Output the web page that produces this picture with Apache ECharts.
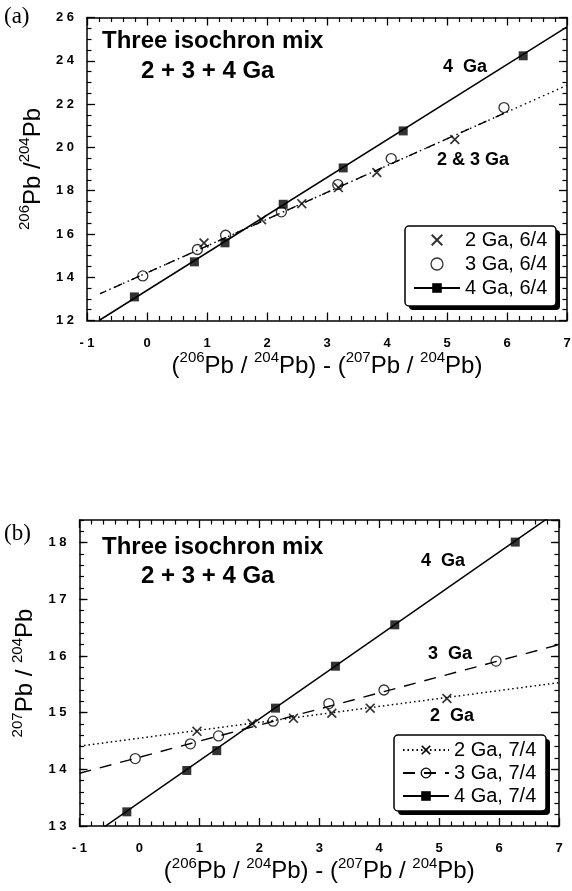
<!DOCTYPE html>
<html><head><meta charset="utf-8">
<script src="https://cdn.jsdelivr.net/npm/echarts@6/dist/echarts.min.js"></script>
<style>html,body{margin:0;padding:0;background:#fff}#c{width:572px;height:891px}</style>
</head><body><div id="c"></div><script>
// ---------- Panel (a): 206Pb/204Pb ----------
const xMin = -1, xMax = 7;
const aYMin = 12, aYMax = 26;
const a2GaX = [0.95, 1.91, 2.58, 3.19, 3.83, 5.13];
const a2GaY = [15.58, 16.66, 17.40, 18.14, 18.84, 20.36];
const a3GaX = [-0.07, 0.84, 1.31, 2.24, 3.18, 4.07, 5.95];
const a3GaY = [14.06, 15.28, 15.94, 17.02, 18.28, 19.48, 21.84];
const a4GaX = [-0.21, 0.79, 1.30, 2.27, 3.27, 4.27, 6.27];
const a4GaY = [13.09, 14.71, 15.59, 17.37, 19.05, 20.76, 24.23];
const aFit4 = [[-0.8, 12.0], [7.0, 25.57]];
const aFit2 = [[-0.78, 13.24], [7.0, 22.87]];
const aFit3 = [[-0.78, 13.24], [5.95, 21.57]];
// ---------- Panel (b): 207Pb/204Pb ----------
const bYMin = 13, bYMax = 18.4;
const b2GaX = [0.96, 1.88, 2.57, 3.21, 3.85, 5.13];
const b2GaY = [14.67, 14.81, 14.90, 14.99, 15.08, 15.25];
const b3GaX = [-0.07, 0.85, 1.32, 2.23, 3.16, 4.08, 5.95];
const b3GaY = [14.19, 14.45, 14.59, 14.85, 15.16, 15.40, 15.91];
const b4GaX = [-0.21, 0.79, 1.29, 2.27, 3.27, 4.26, 6.27];
const b4GaY = [13.25, 13.98, 14.33, 15.08, 15.82, 16.55, 18.01];
const bFit4 = [[-1, 12.68], [7, 18.57]];
const bFit3 = [[-1, 13.93], [7, 16.20]];
const bFit2 = [[-1, 14.41], [7, 15.53]];

const pts = (xs, ys) => xs.map((x, i) => [x, ys[i]]);
const spaced = v => String(v).split('').join(' ');
const FONT = 'Liberation Sans';
const X_PATH = 'path://M0,1.2L1.2,0L5,3.8L8.8,0L10,1.2L6.2,5L10,8.8L8.8,10L5,6.2L1.2,10L0,8.8L3.8,5Z';

const tickLbl = {fontFamily: FONT, fontWeight: 'bold', fontSize: 13, color: '#000'};
const axLine = {show: true, onZero: false, lineStyle: {color: '#000', width: 1.5}};
const noLine = {show: false, onZero: false};
const majTick = {show: true, inside: true, length: 8, lineStyle: {color: '#000', width: 1.3}};
const minTick = {show: true, inside: true, length: 4.5, lineStyle: {color: '#000', width: 1.2}};
const minorA = n => ({show: true, splitNumber: n, length: 4.5, lineStyle: {color: '#000', width: 1.2}});
const rich = {
  s: {fontFamily: FONT, fontSize: 15, verticalAlign: 'top', lineHeight: 15, color: '#000'},
  m: {fontFamily: FONT, fontSize: 24, lineHeight: 31, color: '#000'}
};

function xAxes(grid) {
  const base = {type: 'value', gridIndex: grid, min: xMin, max: xMax, interval: 1,
    axisLine: axLine, splitLine: {show: false}, axisTick: majTick, minorTick: minorA(5)};
  return [
    Object.assign({}, base, {position: 'bottom',
      axisLabel: Object.assign({show: true, margin: 16, formatter: spaced}, tickLbl),
      name: '{m|(}{s|206}{m|Pb / }{s|204}{m|Pb) - (}{s|207}{m|Pb / }{s|204}{m|Pb)}',
      nameLocation: 'middle', nameGap: 27,
      nameTextStyle: {rich: rich}}),
    Object.assign({}, base, {position: 'top', axisLabel: {show: false}})
  ];
}
function frame(x, y, w, h) {
  return [
    {type: 'rect', shape: {x: x + 4, y: y + 4, width: w, height: h, r: 4}, style: {fill: '#000'}, z: 10},
    {type: 'rect', shape: {x: x, y: y, width: w, height: h, r: 4}, style: {fill: '#fff', stroke: '#000', lineWidth: 1.5}, z: 11}
  ];
}

const option = {
  animation: false,
  backgroundColor: '#fff',
  grid: [
    {left: 87, top: 17.5, width: 480, height: 303, outerBoundsMode: 'none', containLabel: false},
    {left: 79.5, top: 520, width: 479.5, height: 306, outerBoundsMode: 'none', containLabel: false}
  ],
  xAxis: [].concat(xAxes(0), xAxes(1)),
  yAxis: [
    // panel a
    {type: 'value', gridIndex: 0, position: 'left', min: aYMin, max: aYMax, interval: 2,
      axisLine: axLine, splitLine: {show: false}, axisTick: majTick, minorTick: minorA(4),
      axisLabel: Object.assign({show: true, margin: 13, formatter: spaced}, tickLbl),
      name: '{s|206}{m|Pb /}{s|204}{m|Pb}', nameLocation: 'middle', nameGap: 37, nameRotate: 90,
      nameTextStyle: {rich: rich}},
    {type: 'value', gridIndex: 0, position: 'right', min: aYMin, max: aYMax, interval: 2,
      axisLine: axLine, splitLine: {show: false}, axisLabel: {show: false},
      axisTick: majTick, minorTick: minorA(4)},
    // panel b
    {type: 'value', gridIndex: 1, position: 'left', min: bYMin, max: bYMax, interval: 1,
      axisLine: axLine, splitLine: {show: false}, axisTick: majTick,
      axisLabel: Object.assign({show: true, margin: 13, formatter: spaced, showMaxLabel: false}, tickLbl),
      name: '{s|207}{m|Pb / }{s|204}{m|Pb}', nameLocation: 'middle', nameGap: 30, nameRotate: 90,
      nameTextStyle: {rich: rich}},
    {type: 'value', gridIndex: 1, position: 'left', min: bYMin, max: bYMax, interval: 0.2,
      axisLine: noLine, splitLine: {show: false}, axisLabel: {show: false}, axisTick: minTick},
    {type: 'value', gridIndex: 1, position: 'right', min: bYMin, max: bYMax, interval: 1,
      axisLine: axLine, splitLine: {show: false}, axisLabel: {show: false}, axisTick: majTick},
    {type: 'value', gridIndex: 1, position: 'right', min: bYMin, max: bYMax, interval: 0.2,
      axisLine: noLine, splitLine: {show: false}, axisLabel: {show: false}, axisTick: minTick}
  ],
  legend: [
    {left: 413, top: 230, orient: 'vertical', itemGap: 4, itemWidth: 46, itemHeight: 12, padding: 0, z: 12,
      textStyle: {fontFamily: FONT, fontSize: 20, lineHeight: 20, color: '#000'},
      data: [{name: '2 Ga, 6/4'}, {name: '3 Ga, 6/4', itemStyle: {borderWidth: 1.3, borderColor: '#000'}}, {name: '4 Ga, 6/4'}]},
    {left: 402, top: 740, orient: 'vertical', itemGap: 3, itemWidth: 46, itemHeight: 12, padding: 0, z: 12,
      textStyle: {fontFamily: FONT, fontSize: 20, lineHeight: 20, color: '#000'},
      data: [{name: '2 Ga, 7/4'}, {name: '3 Ga, 7/4', itemStyle: {borderWidth: 1.3, borderColor: '#000'}}, {name: '4 Ga, 7/4'}]}
  ],
  series: [
    // ----- panel a -----
    {name: '4 Ga, 6/4', type: 'line', xAxisIndex: 0, yAxisIndex: 0, data: aFit4, showSymbol: false,
      symbol: 'rect', symbolSize: 9, itemStyle: {color: '#000'}, lineStyle: {color: '#000', width: 1.5}, z: 2},
    {name: 'fit 2 Ga a', type: 'line', xAxisIndex: 0, yAxisIndex: 0, data: aFit2, showSymbol: false, symbol: 'none',
      lineStyle: {color: '#000', width: 1.4, type: [1.5, 3.5]}, z: 2},
    {name: 'fit 3 Ga a', type: 'line', xAxisIndex: 0, yAxisIndex: 0, data: aFit3, showSymbol: false, symbol: 'none',
      lineStyle: {color: '#000', width: 1.4, type: [9, 10], dashOffset: 4}, z: 2},
    {name: '4 Ga, 6/4', type: 'scatter', xAxisIndex: 0, yAxisIndex: 0, data: pts(a4GaX, a4GaY),
      symbol: 'rect', symbolSize: 9, itemStyle: {color: '#000'}, z: 3},
    {name: '2 Ga, 6/4', type: 'scatter', xAxisIndex: 0, yAxisIndex: 0, data: pts(a2GaX, a2GaY),
      symbol: X_PATH, symbolSize: 10, itemStyle: {color: '#000'}, z: 3},
    {name: '3 Ga, 6/4', type: 'scatter', xAxisIndex: 0, yAxisIndex: 0, data: pts(a3GaX, a3GaY),
      symbol: 'circle', symbolSize: 10, itemStyle: {color: 'rgba(255,255,255,0)', borderColor: '#000', borderWidth: 1.3}, z: 3},
    // ----- panel b -----
    {name: '2 Ga, 7/4', type: 'line', xAxisIndex: 2, yAxisIndex: 2, data: bFit2, showSymbol: false,
      symbol: X_PATH, symbolSize: 10, itemStyle: {color: '#000'}, lineStyle: {color: '#000', width: 1.5, type: [1.5, 3]}, z: 2},
    {name: '3 Ga, 7/4', type: 'line', xAxisIndex: 2, yAxisIndex: 2, data: bFit3, showSymbol: false,
      symbol: 'circle', symbolSize: 10, itemStyle: {color: 'rgba(255,255,255,0)', borderColor: '#000', borderWidth: 1.3},
      lineStyle: {color: '#000', width: 1.4, type: [12, 9]}, z: 2},
    {name: '4 Ga, 7/4', type: 'line', xAxisIndex: 2, yAxisIndex: 2, data: bFit4, showSymbol: false,
      symbol: 'rect', symbolSize: 9, itemStyle: {color: '#000'}, lineStyle: {color: '#000', width: 1.5}, z: 2},
    {name: '2 Ga, 7/4', type: 'scatter', xAxisIndex: 2, yAxisIndex: 2, data: pts(b2GaX, b2GaY),
      symbol: X_PATH, symbolSize: 10, itemStyle: {color: '#000'}, z: 3},
    {name: '3 Ga, 7/4', type: 'scatter', xAxisIndex: 2, yAxisIndex: 2, data: pts(b3GaX, b3GaY),
      symbol: 'circle', symbolSize: 10, itemStyle: {color: 'rgba(255,255,255,0)', borderColor: '#000', borderWidth: 1.3}, z: 3},
    {name: '4 Ga, 7/4', type: 'scatter', xAxisIndex: 2, yAxisIndex: 2, data: pts(b4GaX, b4GaY),
      symbol: 'rect', symbolSize: 9, itemStyle: {color: '#000'}, z: 3}
  ],
  graphic: [
    {type: 'text', left: 4, top: 5, style: {text: '(a)', font: '23px "Liberation Serif"', fill: '#000'}},
    {type: 'text', left: 4, top: 522, style: {text: '(b)', font: '23px "Liberation Serif"', fill: '#000'}},
    {type: 'text', left: 102, top: 29, style: {text: 'Three isochron mix', font: 'bold 24px "Liberation Sans"', fill: '#000'}},
    {type: 'text', left: 141, top: 59, style: {text: '2 + 3 + 4 Ga', font: 'bold 24px "Liberation Sans"', fill: '#000'}},
    {type: 'text', left: 443, top: 58, style: {text: '4  Ga', font: 'bold 18px "Liberation Sans"', fill: '#000'}},
    {type: 'text', left: 437, top: 151, style: {text: '2 & 3 Ga', font: 'bold 18px "Liberation Sans"', fill: '#000'}},
    {type: 'text', left: 102, top: 535, style: {text: 'Three isochron mix', font: 'bold 24px "Liberation Sans"', fill: '#000'}},
    {type: 'text', left: 141, top: 564, style: {text: '2 + 3 + 4 Ga', font: 'bold 24px "Liberation Sans"', fill: '#000'}},
    {type: 'text', left: 421, top: 552, style: {text: '4  Ga', font: 'bold 18px "Liberation Sans"', fill: '#000'}},
    {type: 'text', left: 428, top: 645, style: {text: '3  Ga', font: 'bold 18px "Liberation Sans"', fill: '#000'}},
    {type: 'text', left: 430, top: 707, style: {text: '2  Ga', font: 'bold 18px "Liberation Sans"', fill: '#000'}}
  ].concat(frame(405, 226, 151, 80), frame(394, 735, 152, 76))
};
const chart = echarts.init(document.getElementById('c'), null, {renderer: 'canvas'});
chart.setOption(option);
</script></body></html>
